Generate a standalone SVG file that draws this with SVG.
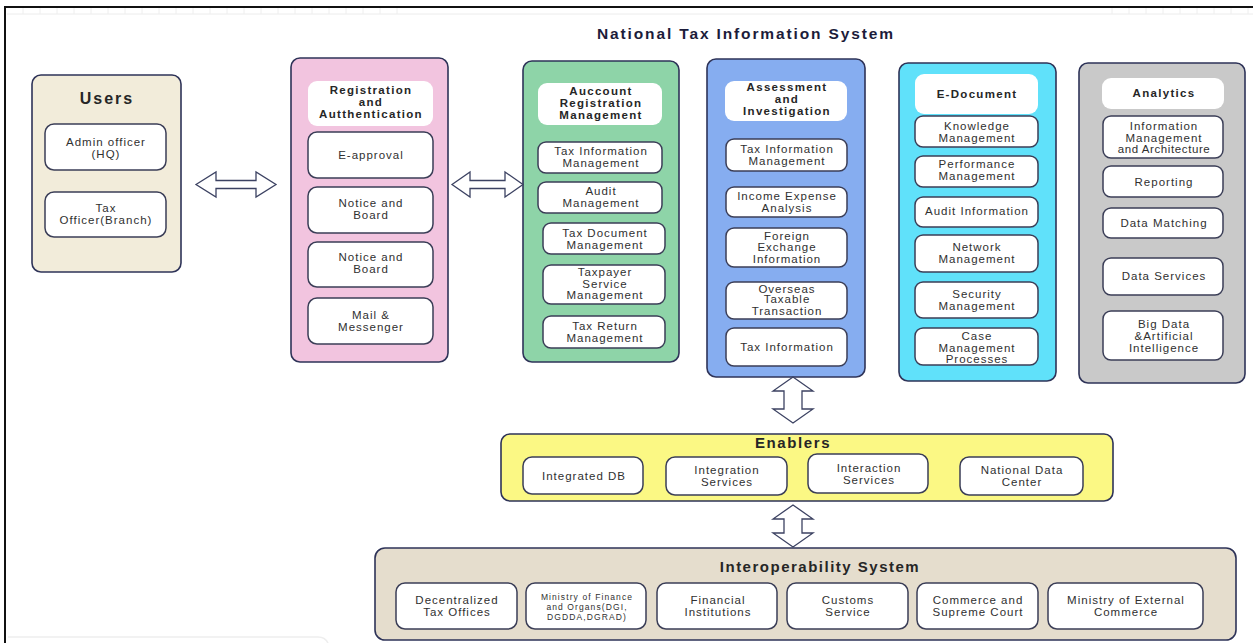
<svg xmlns="http://www.w3.org/2000/svg" width="1253" height="643" viewBox="0 0 1253 643">
  <defs>
    <style>
      text { font-family: "Liberation Sans", Arial, sans-serif; fill: #303030; text-anchor: middle; }
      .t { font-size: 11.5px; letter-spacing: 1px; }
      .ts { font-size: 8.5px; letter-spacing: 1.1px; }
      .h { font-size: 11.5px; font-weight: bold; letter-spacing: 1.3px; fill: #262626; }
      .big { font-size: 16px; font-weight: bold; letter-spacing: 2px; fill: #262626; }
      .title { font-size: 15.5px; font-weight: bold; fill: #1c1c3a; }
      .panel { stroke: #2e3358; stroke-width: 1.6; }
      .item { fill: #ffffff; stroke: #3b3e57; stroke-width: 1.5; }
      .head { fill: #ffffff; }
      .arrow { fill: #ffffff; stroke: #3c4262; stroke-width: 1.3; stroke-linejoin: miter; }
    </style>
  </defs>

  <rect width="1253" height="643" fill="#ffffff"/>

  <!-- page frame -->
  <path d="M5,643 V7 H1253" fill="none" stroke="#111111" stroke-width="2"/>
  <path d="M7,14 H1253" stroke="#ececec" stroke-width="1"/>
  <path d="M23,8 V14 M40,8 V14 M57,8 V14 M74,8 V14 M91,8 V14 M108,8 V14 M125,8 V14 M142,8 V14 M159,8 V14 M176,8 V14 M193,8 V14 M210,8 V14 M227,8 V14 M244,8 V14 M261,8 V14 M278,8 V14 M295,8 V14 M312,8 V14 M329,8 V14 M346,8 V14 M363,8 V14 M380,8 V14 M397,8 V14" stroke="#eeeeee" stroke-width="1"/>
  <path d="M1112,8 V14 M1129,8 V14 M1146,8 V14 M1163,8 V14 M1180,8 V14 M1197,8 V14 M1214,8 V14 M1231,8 V14 M1248,8 V14" stroke="#eeeeee" stroke-width="1"/>
  <path d="M8,637 H318 Q325,637 328,643" fill="none" stroke="#eeeeee" stroke-width="1.5"/>

  <text class="title" x="745" y="39" textLength="296" lengthAdjust="spacing">National Tax Information System</text>

  <!-- Users -->
  <g id="users">
    <rect class="panel" x="32" y="75" width="149" height="197" rx="9" fill="#f2ecda"/>
    <text class="big" x="107" y="104">Users</text>
    <rect class="item" x="45" y="124" width="121" height="46" rx="9"/>
    <text class="t" x="106" y="146">Admin officer</text>
    <text class="t" x="106" y="158">(HQ)</text>
    <rect class="item" x="45" y="192" width="121" height="45" rx="9"/>
    <text class="t" x="106" y="212">Tax</text>
    <text class="t" x="106" y="224">Officer(Branch)</text>
  </g>

  <!-- Registration and Authentication -->
  <g id="registration">
    <rect class="panel" x="291" y="58" width="157" height="304" rx="9" fill="#f2c4df"/>
    <rect class="head" x="308" y="81" width="125" height="45" rx="9"/>
    <text class="h" x="371" y="94">Registration</text>
    <text class="h" x="371" y="106">and</text>
    <text class="h" x="371" y="118">Autthentication</text>
    <rect class="item" x="308" y="132" width="125" height="46" rx="9"/>
    <text class="t" x="371" y="159">E-approval</text>
    <rect class="item" x="308" y="187" width="125" height="46" rx="9"/>
    <text class="t" x="371" y="207">Notice and</text>
    <text class="t" x="371" y="219">Board</text>
    <rect class="item" x="308" y="242" width="125" height="45" rx="9"/>
    <text class="t" x="371" y="261">Notice and</text>
    <text class="t" x="371" y="273">Board</text>
    <rect class="item" x="308" y="298" width="125" height="46" rx="9"/>
    <text class="t" x="371" y="319">Mail &amp;</text>
    <text class="t" x="371" y="331">Messenger</text>
  </g>

  <!-- Account Registration Management -->
  <g id="account">
    <rect class="panel" x="523" y="61" width="156" height="301" rx="9" fill="#8ed4a8"/>
    <rect class="head" x="538" y="83" width="124" height="42" rx="9"/>
    <text class="h" x="601" y="95">Auccount</text>
    <text class="h" x="601" y="107">Registration</text>
    <text class="h" x="601" y="119">Management</text>
    <rect class="item" x="538" y="142" width="124" height="31" rx="8"/>
    <text class="t" x="601" y="155">Tax Information</text>
    <text class="t" x="601" y="167">Management</text>
    <rect class="item" x="538" y="182" width="124" height="31" rx="8"/>
    <text class="t" x="601" y="195">Audit</text>
    <text class="t" x="601" y="207">Management</text>
    <rect class="item" x="543" y="223" width="122" height="31" rx="8"/>
    <text class="t" x="605" y="237">Tax Document</text>
    <text class="t" x="605" y="249">Management</text>
    <rect class="item" x="543" y="265" width="122" height="39" rx="8"/>
    <text class="t" x="605" y="276">Taxpayer</text>
    <text class="t" x="605" y="288">Service</text>
    <text class="t" x="605" y="299">Management</text>
    <rect class="item" x="543" y="316" width="122" height="32" rx="8"/>
    <text class="t" x="605" y="330">Tax Return</text>
    <text class="t" x="605" y="342">Management</text>
  </g>

  <!-- Assessment and Investigation -->
  <g id="assessment">
    <rect class="panel" x="707" y="59" width="158" height="318" rx="9" fill="#86adf0"/>
    <rect class="head" x="725" y="81" width="122" height="40" rx="9"/>
    <text class="h" x="787" y="91">Assessment</text>
    <text class="h" x="787" y="103">and</text>
    <text class="h" x="787" y="115">Investigation</text>
    <rect class="item" x="726" y="139" width="121" height="32" rx="8"/>
    <text class="t" x="787" y="153">Tax Information</text>
    <text class="t" x="787" y="165">Management</text>
    <rect class="item" x="726" y="187" width="121" height="30" rx="8"/>
    <text class="t" x="787" y="200">Income Expense</text>
    <text class="t" x="787" y="212">Analysis</text>
    <rect class="item" x="726" y="228" width="121" height="39" rx="8"/>
    <text class="t" x="787" y="240">Foreign</text>
    <text class="t" x="787" y="251">Exchange</text>
    <text class="t" x="787" y="263">Information</text>
    <rect class="item" x="726" y="282" width="121" height="37" rx="8"/>
    <text class="t" x="787" y="293">Overseas</text>
    <text class="t" x="787" y="303">Taxable</text>
    <text class="t" x="787" y="315">Transaction</text>
    <rect class="item" x="726" y="328" width="121" height="38" rx="8"/>
    <text class="t" x="787" y="351">Tax Information</text>
  </g>

  <!-- E-Document -->
  <g id="edocument">
    <rect class="panel" x="899" y="63" width="157" height="318" rx="9" fill="#60e1fa"/>
    <rect class="head" x="915" y="74" width="123" height="40" rx="9"/>
    <text class="h" x="977" y="98">E-Document</text>
    <rect class="item" x="915" y="116" width="123" height="31" rx="8"/>
    <text class="t" x="977" y="130">Knowledge</text>
    <text class="t" x="977" y="142">Management</text>
    <rect class="item" x="915" y="156" width="123" height="31" rx="8"/>
    <text class="t" x="977" y="168">Performance</text>
    <text class="t" x="977" y="180">Management</text>
    <rect class="item" x="915" y="197" width="123" height="30" rx="8"/>
    <text class="t" x="977" y="215">Audit Information</text>
    <rect class="item" x="915" y="235" width="123" height="37" rx="8"/>
    <text class="t" x="977" y="251">Network</text>
    <text class="t" x="977" y="263">Management</text>
    <rect class="item" x="915" y="282" width="123" height="36" rx="8"/>
    <text class="t" x="977" y="298">Security</text>
    <text class="t" x="977" y="310">Management</text>
    <rect class="item" x="915" y="328" width="123" height="37" rx="8"/>
    <text class="t" x="977" y="340">Case</text>
    <text class="t" x="977" y="352">Management</text>
    <text class="t" x="977" y="363">Processes</text>
  </g>

  <!-- Analytics -->
  <g id="analytics">
    <rect class="panel" x="1079" y="63" width="166" height="320" rx="9" fill="#c9c9c9"/>
    <rect class="head" x="1102" y="78" width="122" height="31" rx="9"/>
    <text class="h" x="1164" y="97">Analytics</text>
    <rect class="item" x="1103" y="116" width="120" height="42" rx="8"/>
    <text class="t" x="1164" y="130">Information</text>
    <text class="t" x="1164" y="142">Management</text>
    <text class="t" x="1164" y="153" style="letter-spacing:0.6px">and Architecture</text>
    <rect class="item" x="1103" y="166" width="120" height="31" rx="8"/>
    <text class="t" x="1164" y="186">Reporting</text>
    <rect class="item" x="1103" y="208" width="120" height="30" rx="8"/>
    <text class="t" x="1164" y="227">Data Matching</text>
    <rect class="item" x="1103" y="258" width="120" height="37" rx="8"/>
    <text class="t" x="1164" y="280">Data Services</text>
    <rect class="item" x="1103" y="311" width="120" height="49" rx="8"/>
    <text class="t" x="1164" y="328">Big Data</text>
    <text class="t" x="1164" y="340">&amp;Artificial</text>
    <text class="t" x="1164" y="352">Intelligence</text>
  </g>

  <!-- Enablers -->
  <g id="enablers">
    <rect class="panel" x="501" y="434" width="612" height="67" rx="9" fill="#fbf884"/>
    <text class="big" x="793" y="448" style="font-size:15px;letter-spacing:1.6px">Enablers</text>
    <rect class="item" x="523" y="457" width="120" height="37" rx="9"/>
    <text class="t" x="584" y="480">Integrated DB</text>
    <rect class="item" x="666" y="457" width="121" height="38" rx="9"/>
    <text class="t" x="727" y="474">Integration</text>
    <text class="t" x="727" y="486">Services</text>
    <rect class="item" x="808" y="454" width="120" height="39" rx="9"/>
    <text class="t" x="869" y="472">Interaction</text>
    <text class="t" x="869" y="484">Services</text>
    <rect class="item" x="960" y="457" width="123" height="38" rx="9"/>
    <text class="t" x="1022" y="474">National Data</text>
    <text class="t" x="1022" y="486">Center</text>
  </g>

  <!-- Interoperability System -->
  <g id="interoperability">
    <rect class="panel" x="375" y="548" width="861" height="92" rx="10" fill="#e5ddcd"/>
    <text class="big" x="820" y="572" style="font-size:15px;letter-spacing:1.5px">Interoperability System</text>
    <rect class="item" x="396" y="583" width="121" height="46" rx="9"/>
    <text class="t" x="457" y="604">Decentralized</text>
    <text class="t" x="457" y="616">Tax Offices</text>
    <rect class="item" x="526" y="583" width="120" height="46" rx="9"/>
    <text class="ts" x="587" y="600">Ministry of Finance</text>
    <text class="ts" x="587" y="610">and Organs(DGI,</text>
    <text class="ts" x="587" y="620">DGDDA,DGRAD)</text>
    <rect class="item" x="657" y="583" width="120" height="46" rx="9"/>
    <text class="t" x="718" y="604">Financial</text>
    <text class="t" x="718" y="616">Institutions</text>
    <rect class="item" x="787" y="583" width="121" height="46" rx="9"/>
    <text class="t" x="848" y="604">Customs</text>
    <text class="t" x="848" y="616">Service</text>
    <rect class="item" x="917" y="583" width="121" height="46" rx="9"/>
    <text class="t" x="978" y="604">Commerce and</text>
    <text class="t" x="978" y="616">Supreme Court</text>
    <rect class="item" x="1048" y="583" width="155" height="46" rx="9"/>
    <text class="t" x="1126" y="604">Ministry of External</text>
    <text class="t" x="1126" y="616">Commerce</text>
  </g>

  <!-- connectors: block double arrows -->
  <g id="connectors">
    <path class="arrow" d="M196,184.5 L216,172 L216,180.5 L256,180.5 L256,172 L276,184.5 L256,197 L256,188.5 L216,188.5 L216,197 Z"/>
    <path class="arrow" d="M452,184.5 L470,172 L470,180.5 L505,180.5 L505,172 L523,184.5 L505,197 L505,188.5 L470,188.5 L470,197 Z"/>
    <path class="arrow" d="M793,377 L813,391 L802,391 L802,409 L813,409 L793,423 L773,409 L784,409 L784,391 L773,391 Z"/>
    <path class="arrow" d="M793,505 L813,519 L802,519 L802,533 L813,533 L793,547 L773,533 L784,533 L784,519 L773,519 Z"/>
  </g>
</svg>
